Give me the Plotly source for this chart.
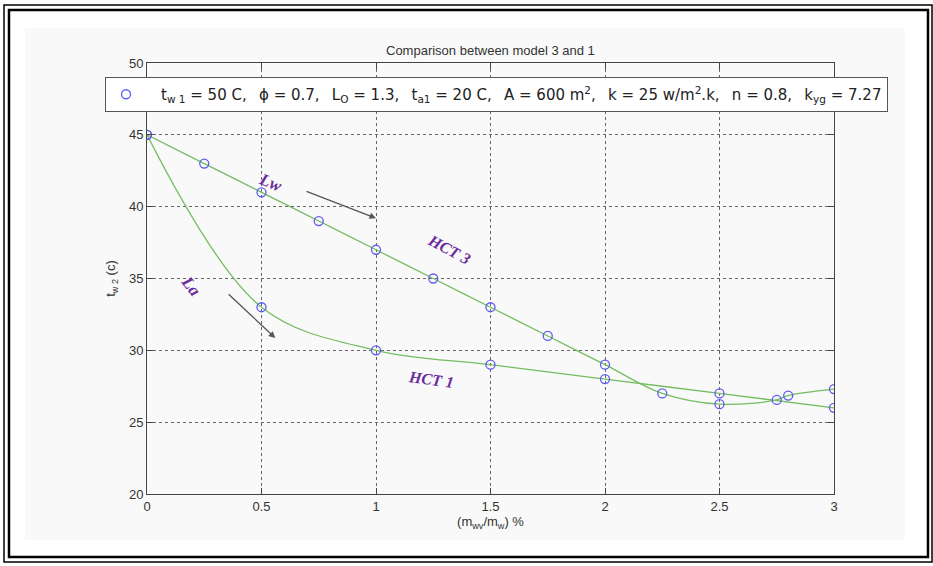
import plotly.graph_objects as go

# Model 3 (HCT 3) results
x_hct3 = [0, 0.25, 0.5, 0.75, 1.0, 1.25, 1.5, 1.75, 2.0, 2.25, 2.5, 2.75, 2.8, 3.0]
y_hct3 = [45, 43, 41, 39, 37, 35, 33, 31, 29, 27, 26.25, 26.55, 26.85, 27.3]

# Model 1 (HCT 1) results
x_hct1 = [0, 0.5, 1.0, 1.5, 2.0, 2.5, 3.0]
y_hct1 = [45, 33, 30, 29, 28, 27, 26]

x_ticks = [0, 0.5, 1, 1.5, 2, 2.5, 3]
y_ticks = [20, 25, 30, 35, 40, 45, 50]

SEP = ",\u2002 "
legend_label = "\u2003" + SEP.join([
    "t<sub>w 1</sub> = 50 C",
    "\u03d5 = 0.7",
    "L<sub>O</sub> = 1.3",
    "t<sub>a1</sub> = 20 C",
    "A = 600 m<sup>2</sup>",
    "k = 25 w/m<sup>2</sup>.k",
    "n = 0.8",
    "k<sub>yg</sub> = 7.27",
])

LINE = "#74bd62"
MARK = "#5b5bf0"
PURPLE = "#6a2c9e"
FONT = "Liberation Sans, Arial, sans-serif"
SERIF = "Liberation Serif, DejaVu Serif, serif"

fig = go.Figure()

for xs, ys in [(x_hct1, y_hct1), (x_hct3, y_hct3)]:
    fig.add_trace(go.Scatter(x=xs, y=ys, mode="lines",
                             line=dict(color=LINE, width=1.3, shape="spline", smoothing=1.0),
                             showlegend=False, hoverinfo="skip"))

fig.add_trace(go.Scatter(x=x_hct3, y=y_hct3, mode="markers", name=legend_label,
                         marker=dict(symbol="circle-open", size=9, color=MARK,
                                     line=dict(width=1.3, color=MARK))))
fig.add_trace(go.Scatter(x=x_hct1, y=y_hct1, mode="markers", showlegend=False,
                         marker=dict(symbol="circle-open", size=9, color=MARK,
                                     line=dict(width=1.3, color=MARK))))

# Figure frame (double border) and light figure background
W, H = 933, 566
L, R, T, B = 147, 99, 63, 72
pw, ph = W - L - R, H - T - B


def px(xp):
    return (xp - L) / pw


def py(yp):
    return (H - B - yp) / ph


shapes = [
    dict(type="rect", xref="paper", yref="paper", x0=px(25), x1=px(905), y0=py(540), y1=py(28),
         fillcolor="#f9f9f9", line=dict(width=0), layer="below"),
    dict(type="rect", xref="paper", yref="paper", x0=px(4), x1=px(932), y0=py(562), y1=py(5),
         line=dict(color="black", width=1.5), layer="above"),
    dict(type="rect", xref="paper", yref="paper", x0=px(9), x1=px(928), y0=py(557), y1=py(10),
         line=dict(color="black", width=2.5), layer="above"),
]

annotations = [
    dict(x=0.54, y=41.7, text="<b><i>Lw</i></b>", showarrow=False, textangle=22,
         font=dict(family=SERIF, size=17, color=PURPLE)),
    dict(x=1.32, y=37.0, text="<b><i>HCT 3</i></b>", showarrow=False, textangle=28,
         font=dict(family=SERIF, size=16, color=PURPLE)),
    dict(x=0.19, y=34.5, text="<b><i>La</i></b>", showarrow=False, textangle=52,
         font=dict(family=SERIF, size=17, color=PURPLE)),
    dict(x=1.24, y=28.0, text="<b><i>HCT 1</i></b>", showarrow=False, textangle=8,
         font=dict(family=SERIF, size=16, color=PURPLE)),
    dict(x=1.0, y=39.2, ax=0.69, ay=41.1, axref="x", ayref="y", text="", showarrow=True,
         arrowhead=2, arrowsize=1, arrowwidth=1.3, arrowcolor="#555555"),
    dict(x=0.56, y=30.86, ax=0.35, ay=34.0, axref="x", ayref="y", text="", showarrow=True,
         arrowhead=2, arrowsize=1, arrowwidth=1.3, arrowcolor="#555555"),
    dict(x=0.5, y=py(50), xref="paper", yref="paper", yanchor="middle",
         text="Comparison between model 3 and 1",
         showarrow=False, font=dict(family=FONT, size=13, color="#333333")),
]

axis_common = dict(showline=True, linecolor="#444444", linewidth=1, mirror="ticks",
                   ticks="inside", ticklen=6, tickcolor="#444444",
                   showgrid=True, gridcolor="#666666", griddash="dot", gridwidth=1,
                   zeroline=False, tickfont=dict(family=FONT, size=13, color="#333333"))

fig.update_layout(
    width=W, height=H,
    margin=dict(l=L, r=R, t=T, b=B),
    paper_bgcolor="white", plot_bgcolor="white",
    font=dict(family=FONT, size=13, color="#333333"),
    xaxis=dict(range=[0, 3], tickvals=x_ticks, ticktext=[str(v) for v in x_ticks],
               title=dict(text="(m<sub>wv</sub>/m<sub>w</sub>) %", standoff=4,
                          font=dict(family=FONT, size=13, color="#333333")),
               **axis_common),
    yaxis=dict(range=[20, 50], tickvals=y_ticks,
               title=dict(text="t<sub>w 2</sub> (c)", standoff=10,
                          font=dict(family=FONT, size=13, color="#333333")),
               **axis_common),
    legend=dict(x=px(105), y=py(77), xanchor="left", yanchor="top",
                bgcolor="white", bordercolor="#555555", borderwidth=1,
                font=dict(family="DejaVu Sans, Verdana, sans-serif", size=15, color="#222222"),
                itemwidth=30, tracegroupgap=0),
    shapes=shapes,
    annotations=annotations,
)

fig.write_html("out.html")
